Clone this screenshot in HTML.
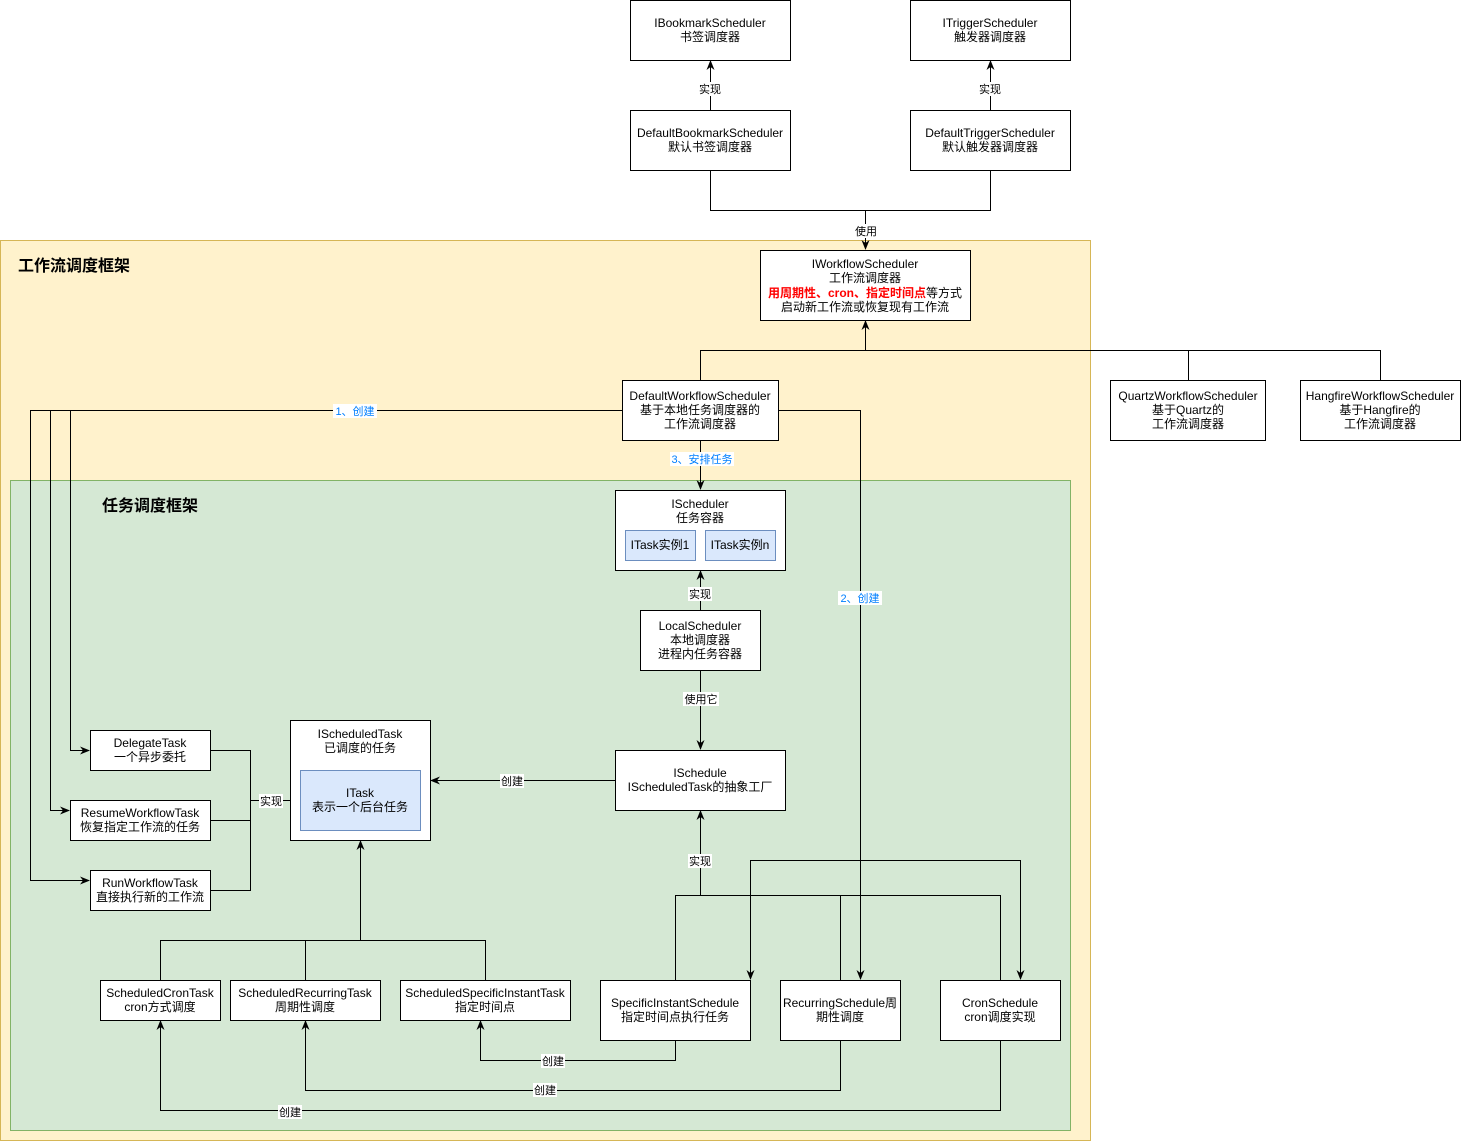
<!DOCTYPE html>
<html><head><meta charset="utf-8"><style>
html,body{margin:0;padding:0;background:#fff;}
svg text{font-family:"Liberation Sans","Noto Sans CJK SC",sans-serif;font-size:12px;fill:#000;}
</style></head><body>
<svg width="1461" height="1141" viewBox="0 0 1461 1141" xmlns="http://www.w3.org/2000/svg">
<defs><marker id="a" markerWidth="10" markerHeight="10" refX="9" refY="5" orient="auto" markerUnits="userSpaceOnUse"><path d="M0,1 L10,5 L0,9 L3,5 z" fill="#000"/></marker></defs>
<rect x="0.5" y="240.5" width="1090" height="900" fill="#fff2cc" stroke="#d6b656"/>
<rect x="10.5" y="480.5" width="1060" height="650" fill="#d5e8d4" stroke="#82b366"/>
<text x="18" y="271" style="font-size:16px;font-weight:bold">工作流调度框架</text>
<text x="102" y="511" style="font-size:16px;font-weight:bold">任务调度框架</text>
<g fill="none" stroke="#000" stroke-width="1">
<path d="M710.5,110 V61" marker-end="url(#a)"/>
<path d="M990.5,110 V61" marker-end="url(#a)"/>
<path d="M710.5,170 V210.5 H990.5 V170"/>
<path d="M865.5,210 V249" marker-end="url(#a)"/>
<path d="M700.5,380 V350.5 H1380.5 V380 M1188.5,350 V380"/>
<path d="M865.5,350 V321" marker-end="url(#a)"/>
<path d="M622,410.5 H30.5 V880.5 H89" marker-end="url(#a)"/>
<path d="M50.5,410 V810.5 H69" marker-end="url(#a)"/>
<path d="M70.5,410 V750.5 H89" marker-end="url(#a)"/>
<path d="M778,410.5 H860.5 V979" marker-end="url(#a)"/>
<path d="M700.5,440 V489" marker-end="url(#a)"/>
<path d="M700.5,610 V571" marker-end="url(#a)"/>
<path d="M700.5,670 V749" marker-end="url(#a)"/>
<path d="M615,780.5 H431" marker-end="url(#a)"/>
<path d="M210,750.5 H250.5 V890.5 H210 M210,820.5 H250"/>
<path d="M250,800.5 H299" marker-end="url(#a)"/>
<path d="M160.5,980 V940.5 H485.5 V980 M305.5,940 V980"/>
<path d="M360.5,940 V841" marker-end="url(#a)"/>
<path d="M675.5,980 V895.5 H1000.5 V980 M840.5,895 V980"/>
<path d="M700.5,895 V811" marker-end="url(#a)"/>
<path d="M890,860.5 H750.5 V979" marker-end="url(#a)"/>
<path d="M880,860.5 H1020.5 V979" marker-end="url(#a)"/>
<path d="M675.5,1040 V1060.5 H480.5 V1021" marker-end="url(#a)"/>
<path d="M840.5,1040 V1090.5 H305.5 V1021" marker-end="url(#a)"/>
<path d="M1000.5,1040 V1110.5 H160.5 V1021" marker-end="url(#a)"/>
</g>
<g fill="#fff" stroke="#000">
<rect x="630.5" y="0.5" width="160" height="60"/>
<rect x="910.5" y="0.5" width="160" height="60"/>
<rect x="630.5" y="110.5" width="160" height="60"/>
<rect x="910.5" y="110.5" width="160" height="60"/>
<rect x="760.5" y="250.5" width="210" height="70"/>
<rect x="622.5" y="380.5" width="156" height="60"/>
<rect x="1110.5" y="380.5" width="155" height="60"/>
<rect x="1300.5" y="380.5" width="160" height="60"/>
<rect x="615.5" y="490.5" width="170" height="80"/>
<rect x="640.5" y="610.5" width="120" height="60"/>
<rect x="615.5" y="750.5" width="170" height="60"/>
<rect x="290.5" y="720.5" width="140" height="120"/>
<rect x="90.5" y="730.5" width="120" height="40"/>
<rect x="70.5" y="800.5" width="140" height="40"/>
<rect x="90.5" y="870.5" width="120" height="40"/>
<rect x="100.5" y="980.5" width="120" height="40"/>
<rect x="230.5" y="980.5" width="150" height="40"/>
<rect x="400.5" y="980.5" width="170" height="40"/>
<rect x="600.5" y="980.5" width="150" height="60"/>
<rect x="780.5" y="980.5" width="120" height="60"/>
<rect x="940.5" y="980.5" width="120" height="60"/>
</g>
<g fill="#dae8fc" stroke="#6c8ebf">
<rect x="625.5" y="530.5" width="70" height="30"/>
<rect x="705.5" y="530.5" width="70" height="30"/>
<rect x="300.5" y="770.5" width="120" height="60"/>
</g>
<g fill="#fff">
<rect x="698" y="82" width="24" height="14"/>
<rect x="978" y="82" width="24" height="14"/>
<rect x="854" y="224" width="24" height="14"/>
<rect x="688" y="587" width="24" height="14"/>
<rect x="683" y="692" width="36" height="14"/>
<rect x="500" y="774" width="24" height="14"/>
<rect x="259" y="794" width="24" height="14"/>
<rect x="688" y="854" width="24" height="14"/>
<rect x="541" y="1054" width="24" height="14"/>
<rect x="533" y="1083" width="24" height="14"/>
<rect x="278" y="1105" width="24" height="14"/>
<rect x="333" y="404" width="44" height="14"/>
<rect x="838" y="591" width="44" height="14"/>
<rect x="670" y="452" width="64" height="14"/>
</g>
<g text-anchor="middle">
<text x="710" y="27">IBookmarkScheduler</text><text x="710" y="41">书签调度器</text>
<text x="990" y="27">ITriggerScheduler</text><text x="990" y="41">触发器调度器</text>
<text x="710" y="137">DefaultBookmarkScheduler</text><text x="710" y="151">默认书签调度器</text>
<text x="990" y="137">DefaultTriggerScheduler</text><text x="990" y="151">默认触发器调度器</text>
<text x="865" y="268">IWorkflowScheduler</text><text x="865" y="282">工作流调度器</text>
<text x="865" y="297"><tspan style="font-weight:bold;fill:#ff0000">用周期性、cron、指定时间点</tspan>等方式</text>
<text x="865" y="311">启动新工作流或恢复现有工作流</text>
<text x="700" y="400">DefaultWorkflowScheduler</text><text x="700" y="414">基于本地任务调度器的</text><text x="700" y="428">工作流调度器</text>
<text x="1188" y="400">QuartzWorkflowScheduler</text><text x="1188" y="414">基于Quartz的</text><text x="1188" y="428">工作流调度器</text>
<text x="1380" y="400">HangfireWorkflowScheduler</text><text x="1380" y="414">基于Hangfire的</text><text x="1380" y="428">工作流调度器</text>
<text x="700" y="508">IScheduler</text><text x="700" y="522">任务容器</text>
<text x="660" y="549">ITask实例1</text><text x="740" y="549">ITask实例n</text>
<text x="700" y="630">LocalScheduler</text><text x="700" y="644">本地调度器</text><text x="700" y="658">进程内任务容器</text>
<text x="700" y="777">ISchedule</text><text x="700" y="791">IScheduledTask的抽象工厂</text>
<text x="360" y="738">IScheduledTask</text><text x="360" y="752">已调度的任务</text>
<text x="360" y="797">ITask</text><text x="360" y="811">表示一个后台任务</text>
<text x="150" y="747">DelegateTask</text><text x="150" y="761">一个异步委托</text>
<text x="140" y="817">ResumeWorkflowTask</text><text x="140" y="831">恢复指定工作流的任务</text>
<text x="150" y="887">RunWorkflowTask</text><text x="150" y="901">直接执行新的工作流</text>
<text x="160" y="997">ScheduledCronTask</text><text x="160" y="1011">cron方式调度</text>
<text x="305" y="997">ScheduledRecurringTask</text><text x="305" y="1011">周期性调度</text>
<text x="485" y="997">ScheduledSpecificInstantTask</text><text x="485" y="1011">指定时间点</text>
<text x="675" y="1007">SpecificInstantSchedule</text><text x="675" y="1021">指定时间点执行任务</text>
<text x="840" y="1007">RecurringSchedule周</text><text x="840" y="1021">期性调度</text>
<text x="1000" y="1007">CronSchedule</text><text x="1000" y="1021">cron调度实现</text>
<text x="710" y="93" style="font-size:11px">实现</text>
<text x="990" y="93" style="font-size:11px">实现</text>
<text x="866" y="235" style="font-size:11px">使用</text>
<text x="700" y="598" style="font-size:11px">实现</text>
<text x="701" y="703" style="font-size:11px">使用它</text>
<text x="512" y="785" style="font-size:11px">创建</text>
<text x="271" y="805" style="font-size:11px">实现</text>
<text x="700" y="865" style="font-size:11px">实现</text>
<text x="553" y="1065" style="font-size:11px">创建</text>
<text x="545" y="1094" style="font-size:11px">创建</text>
<text x="290" y="1116" style="font-size:11px">创建</text>
<text x="355" y="415" style="font-size:11px;fill:#007fff">1、创建</text>
<text x="860" y="602" style="font-size:11px;fill:#007fff">2、创建</text>
<text x="702" y="463" style="font-size:11px;fill:#007fff">3、安排任务</text>
</g>
</svg>
</body></html>
